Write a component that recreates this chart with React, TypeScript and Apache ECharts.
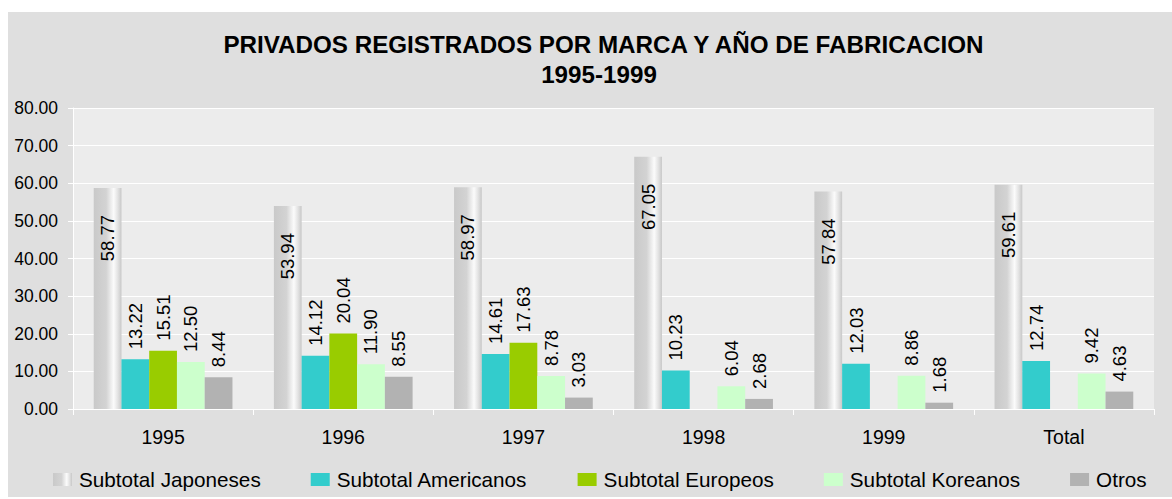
import React, { useEffect, useRef } from "react";
import * as echarts from "echarts";

const categories = ["1995", "1996", "1997", "1998", "1999", "Total"];
const seriesNames = [
  "Subtotal Japoneses",
  "Subtotal Americanos",
  "Subtotal Europeos",
  "Subtotal Koreanos",
  "Otros",
];
const japoneses = [58.77, 53.94, 58.97, 67.05, 57.84, 59.61];
const americanos = [13.22, 14.12, 14.61, 10.23, 12.03, 12.74];
const europeos: (number | null)[] = [15.51, 20.04, 17.63, null, null, null];
const koreanos = [12.5, 11.9, 8.78, 6.04, 8.86, 9.42];
const otros = [8.44, 8.55, 3.03, 2.68, 1.68, 4.63];
const yTicks = { min: 0, max: 80, interval: 10 };
const titleLine1 = "PRIVADOS REGISTRADOS POR MARCA Y AÑO DE FABRICACION";
const titleLine2 = "1995-1999";

const FONT = '"Liberation Sans", Arial, Helvetica, sans-serif';

export default function App() {
  const ref = useRef<HTMLDivElement>(null);
  useEffect(() => {
    if (!ref.current) return;
    const chart = echarts.init(ref.current, undefined, { renderer: "svg" });
    const fmt = (p: any) => (p.value == null ? "" : Number(p.value).toFixed(2));
    const outsideLabel = {
      show: true,
      position: "top",
      rotate: 90,
      align: "left",
      verticalAlign: "middle",
      distance: 10,
      fontSize: 18.5,
      fontFamily: FONT,
      color: "#000",
      formatter: fmt,
    };
    const japGradient = new echarts.graphic.LinearGradient(0, 0, 1, 0, [
      { offset: 0, color: "#c9c9c9" },
      { offset: 0.45, color: "#d3d3d3" },
      { offset: 0.72, color: "#fbfbfb" },
      { offset: 0.86, color: "#e4e4e4" },
      { offset: 1, color: "#c8c8c8" },
    ]);
    const option: any = {
      animation: false,
      backgroundColor: "#dfdfdf",
      textStyle: { fontFamily: FONT },
      graphic: [
        {
          type: "text",
          x: 595.5,
          y: 32.7,
          style: {
            text: titleLine1,
            textAlign: "center",
            textVerticalAlign: "middle",
            font: `bold 24.2px ${FONT}`,
            fill: "#000",
          },
        },
        {
          type: "text",
          x: 591,
          y: 62.5,
          style: {
            text: titleLine2,
            textAlign: "center",
            textVerticalAlign: "middle",
            font: `bold 24.2px ${FONT}`,
            fill: "#000",
          },
        },
      ],
      legend: {
        left: 45,
        top: 457,
        padding: 0,
        itemWidth: 19,
        itemHeight: 13,
        itemGap: 50,
        icon: "rect",
        textStyle: { fontSize: 20.7, fontFamily: FONT, color: "#000", padding: [0, 0, 0, 2] },
        data: seriesNames,
      },
      grid: {
        left: 65,
        right: 18,
        top: 96,
        bottom: 88,
        show: true,
        backgroundColor: "#ececec",
        borderWidth: 0,
      },
      xAxis: {
        type: "category",
        data: categories,
        axisLine: { show: true, lineStyle: { color: "#ffffff", width: 1 } },
        axisTick: { show: true, length: 6, alignWithLabel: false, lineStyle: { color: "#ffffff" } },
        axisLabel: { fontSize: 19.5, fontFamily: FONT, color: "#000", margin: 18 },
      },
      yAxis: {
        type: "value",
        min: yTicks.min,
        max: yTicks.max,
        interval: yTicks.interval,
        axisLine: { show: true, lineStyle: { color: "#ffffff", width: 1 } },
        axisTick: { show: true, length: 5, lineStyle: { color: "#ffffff" } },
        splitLine: { show: true, lineStyle: { color: "#ffffff", width: 1 } },
        axisLabel: {
          fontSize: 17.5,
          fontFamily: FONT,
          color: "#000",
          margin: 15,
          formatter: (v: number) => v.toFixed(2),
        },
      },
      series: [
        {
          name: seriesNames[0],
          type: "bar",
          data: japoneses,
          barGap: "0%",
          barCategoryGap: "23%",
          itemStyle: { color: japGradient },
          label: {
            show: true,
            position: "insideTop",
            rotate: 90,
            align: "right",
            verticalAlign: "middle",
            distance: 27,
            fontSize: 18.5,
            fontFamily: FONT,
            color: "#000",
            formatter: fmt,
          },
        },
        {
          name: seriesNames[1],
          type: "bar",
          data: americanos,
          itemStyle: { color: "#33cccc" },
          label: outsideLabel,
        },
        {
          name: seriesNames[2],
          type: "bar",
          data: europeos,
          itemStyle: { color: "#99cc00" },
          label: outsideLabel,
        },
        {
          name: seriesNames[3],
          type: "bar",
          data: koreanos,
          itemStyle: { color: "#ccffcc" },
          label: outsideLabel,
        },
        {
          name: seriesNames[4],
          type: "bar",
          data: otros,
          itemStyle: { color: "#b2b2b2" },
          label: outsideLabel,
        },
      ],
    };
    chart.setOption(option);
    return () => chart.dispose();
  }, []);
  return (
    <div
      ref={ref}
      style={{ position: "absolute", left: 8, top: 12, width: 1164, height: 485 }}
    />
  );
}
